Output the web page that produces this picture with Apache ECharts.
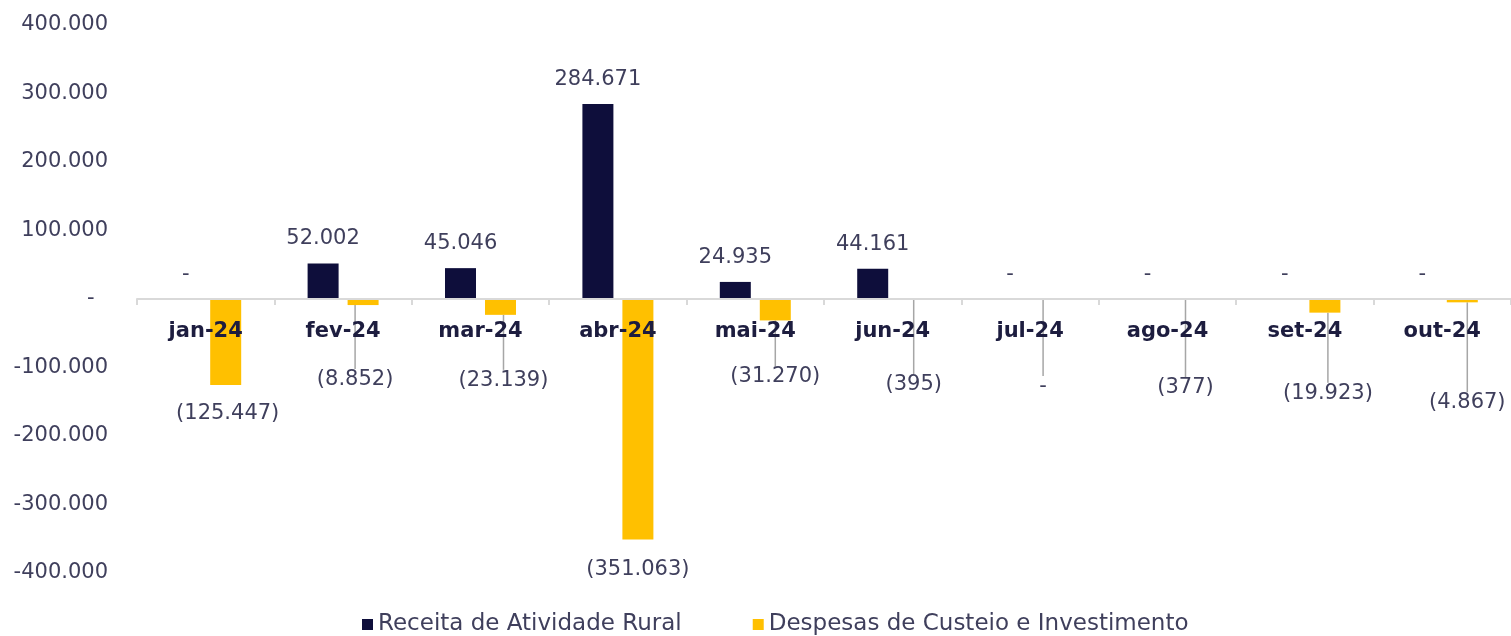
<!DOCTYPE html>
<html>
<head>
<meta charset="utf-8">
<script src="https://cdn.jsdelivr.net/npm/echarts@6/dist/echarts.min.js"></script>
<style>
html,body{margin:0;padding:0;background:#fff;}
#chart{width:1511px;height:636px;}
</style>
</head>
<body>
<div id="chart"></div>
<script>
const categories = ['jan-24','fev-24','mar-24','abr-24','mai-24','jun-24','jul-24','ago-24','set-24','out-24'];
const receita = [0, 52002, 45046, 284671, 24935, 44161, 0, 0, 0, 0];
const despesas = [-125447, -8852, -23139, -351063, -31270, -395, 0, -377, -19923, -4867];
const seriesNames = ['Receita de Atividade Rural', 'Despesas de Custeio e Investimento'];
const yMin = -400000, yMax = 400000, yStep = 100000;

function fmtThousands(v) {
  return Math.round(Math.abs(v)).toString().replace(/\B(?=(\d{3})+(?!\d))/g, '.');
}
function fmtAxis(v) {
  if (v === 0) return '-\u2007';
  return (v < 0 ? '-' : '') + fmtThousands(v);
}
function fmtLabel(v) {
  if (v === 0) return '-';
  return v < 0 ? '(' + fmtThousands(v) + ')' : fmtThousands(v);
}

// label nudges for the expense series (Excel-style moved labels with leader lines)
const despNudge = [[2,0],[-8,46],[3,37],[0,2],[0,28],[1,57],[-7,59],[-2,60],[3,52],[5,72]];

const chart = echarts.init(document.getElementById('chart'), null, {renderer: 'canvas'});
const FONT = 'DejaVu Sans';
const option = {
  animation: false,
  textStyle: {fontFamily: FONT},
  grid: {left: 137, right: -3, top: 25, bottom: 63, containLabel: false},
  legend: {
    data: seriesNames,
    top: 608,
    left: 357,
    icon: 'rect',
    itemWidth: 11,
    itemHeight: 11,
    itemGap: 71,
    textStyle: {fontFamily: FONT, fontSize: 23, color: '#3f3f5c'}
  },
  xAxis: {
    type: 'category',
    data: categories,
    z: 10,
    axisLine: {show: true, onZero: true, lineStyle: {color: '#d9d9d9', width: 2}},
    axisTick: {show: true, length: 6, lineStyle: {color: '#d9d9d9', width: 2}},
    axisLabel: {margin: -252, fontFamily: FONT, fontSize: 21, fontWeight: 'bold', color: '#1d1d3f'},
    splitLine: {show: false}
  },
  yAxis: {
    type: 'value',
    min: yMin, max: yMax, interval: yStep,
    axisLine: {show: false},
    axisTick: {show: false},
    splitLine: {show: false},
    axisLabel: {margin: 29, fontFamily: FONT, fontSize: 21, color: '#3f3f5c', formatter: fmtAxis}
  },
  series: [
    {
      name: seriesNames[0],
      type: 'bar',
      data: receita,
      barWidth: 31,
      barGap: '29%',
      itemStyle: {color: '#0e0e3b'},
      label: {
        show: true, position: 'top', distance: 14,
        fontFamily: FONT, fontSize: 21, color: '#3f3f5c',
        formatter: p => fmtLabel(p.value)
      }
    },
    {
      name: seriesNames[1],
      type: 'bar',
      data: despesas.map((v, i) => ({
        value: v,
        labelLine: {show: despNudge[i][1] > 10}
      })),
      barWidth: 31,
      itemStyle: {color: '#ffc000'},
      label: {
        show: true, position: 'bottom', distance: 18,
        fontFamily: FONT, fontSize: 21, color: '#3f3f5c',
        formatter: p => fmtLabel(p.value)
      },
      labelLine: {show: true, lineStyle: {color: '#a6a6a6', width: 1.5}},
      labelLayout: function (params) {
        const n = despNudge[params.dataIndex];
        return {dx: n[0], dy: n[1]};
      }
    }
  ]
};
chart.setOption(option);
</script>
</body>
</html>
